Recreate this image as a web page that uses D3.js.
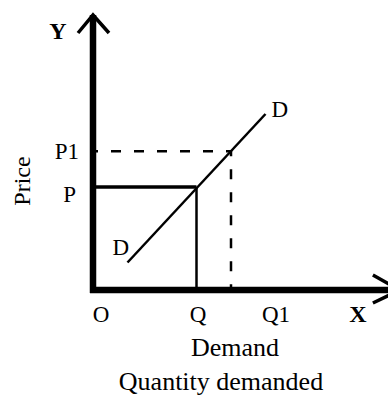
<!DOCTYPE html>
<html>
<head>
<meta charset="utf-8">
<script src="https://cdn.jsdelivr.net/npm/d3@7"></script>
<style>
  html, body { margin: 0; padding: 0; background: #fff; }
  svg text { font-family: "Liberation Serif", "Times New Roman", serif; fill: #000; }
</style>
</head>
<body>
<div id="chart"></div>
<script>
// Supply/demand sketch: quantity on x, price on y (arbitrary units 0..10)
const pointQ = { label: "Q", q: 3.45, p: 3.75 };
const pointQ1 = { label: "Q1", q: 4.6, p: 5.05 };
const demandLine = [ { q: 1.15, p: 1.0 }, { q: 5.75, p: 6.4 } ];

const xTickLabels = ["O", "Q", "Q1"];
const xTickAt = [0.27, 3.5, 6.1];
const yTickLabels = ["P1", "P"];
const yTickAt = [5.05, 3.75];

(function () {
  const width = 388, height = 403;

  const svg = d3.select("#chart").append("svg")
    .attr("width", width)
    .attr("height", height);

  const x = d3.scaleLinear().domain([0, 10]).range([93, 393]);
  const y = d3.scaleLinear().domain([0, 10]).range([290, 15]);

  // dashed guides for P1 / Q1
  svg.append("path")
    .attr("d", `M${x(0)},${y(pointQ1.p)}H${x(pointQ1.q)}V${y(0)}`)
    .attr("fill", "none")
    .attr("stroke", "#000")
    .attr("stroke-width", 2.5)
    .attr("stroke-dasharray", "10,13")
    .attr("stroke-dashoffset", 5);

  // solid box for P / Q
  svg.append("line")
    .attr("x1", x(0)).attr("x2", x(pointQ.q))
    .attr("y1", y(pointQ.p)).attr("y2", y(pointQ.p))
    .attr("stroke", "#000").attr("stroke-width", 3.5);
  svg.append("line")
    .attr("x1", x(pointQ.q)).attr("x2", x(pointQ.q))
    .attr("y1", y(pointQ.p)).attr("y2", y(0))
    .attr("stroke", "#000").attr("stroke-width", 2.5);

  // demand line D-D
  svg.append("path")
    .attr("d", d3.line().x(d => x(d.q)).y(d => y(d.p))(demandLine))
    .attr("stroke", "#000")
    .attr("stroke-width", 2.5);

  // axes
  const tipY = [x(0), y(10)], tipX = [x(10.23), y(0)];
  svg.append("line")
    .attr("x1", x(0)).attr("x2", x(0))
    .attr("y1", y(0) + 3).attr("y2", tipY[1])
    .attr("stroke", "#000").attr("stroke-width", 6.5);
  svg.append("line")
    .attr("x1", x(0) - 3).attr("x2", tipX[0])
    .attr("y1", y(0)).attr("y2", y(0))
    .attr("stroke", "#000").attr("stroke-width", 6.5);

  svg.append("path")
    .attr("d", `M${tipY[0] - 15},${tipY[1] + 18}L${tipY[0]},${tipY[1]}L${tipY[0] + 16},${tipY[1] + 18}`)
    .attr("fill", "none").attr("stroke", "#000").attr("stroke-width", 3.5);
  svg.append("path")
    .attr("d", `M${tipX[0] - 27},${tipX[1] - 15}L${tipX[0]},${tipX[1]}L${tipX[0] - 27},${tipX[1] + 13}`)
    .attr("fill", "none").attr("stroke", "#000").attr("stroke-width", 3.5);

  // tick letters
  xTickLabels.forEach((t, i) => {
    svg.append("text")
      .attr("x", x(xTickAt[i])).attr("y", 322)
      .attr("text-anchor", "middle")
      .attr("font-size", 23)
      .text(t);
  });
  yTickLabels.forEach((t, i) => {
    svg.append("text")
      .attr("x", i === 0 ? 79 : 76).attr("y", y(yTickAt[i]) + 8 + (i === 0 ? 0 : 7))
      .attr("text-anchor", "end")
      .attr("font-size", 23)
      .text(t);
  });

  // D labels
  svg.append("text")
    .attr("x", x(demandLine[1].q) + 6).attr("y", 117)
    .attr("font-size", 23).text("D");
  svg.append("text")
    .attr("x", x(demandLine[0].q) - 15).attr("y", 255)
    .attr("font-size", 23).text("D");

  // axis letters
  svg.append("text")
    .attr("x", 58).attr("y", 39)
    .attr("text-anchor", "middle")
    .attr("font-size", 24).attr("font-weight", "bold")
    .text("Y");
  svg.append("text")
    .attr("x", 358).attr("y", 322)
    .attr("text-anchor", "middle")
    .attr("font-size", 24).attr("font-weight", "bold")
    .text("X");

  // titles
  svg.append("text")
    .attr("transform", "translate(30,181) rotate(-90)")
    .attr("text-anchor", "middle")
    .attr("font-size", 24)
    .text("Price");
  svg.append("text")
    .attr("x", 235).attr("y", 356)
    .attr("text-anchor", "middle")
    .attr("font-size", 26)
    .text("Demand");
  svg.append("text")
    .attr("x", 221).attr("y", 390)
    .attr("text-anchor", "middle")
    .attr("font-size", 26)
    .text("Quantity demanded");
})();
</script>
</body>
</html>
